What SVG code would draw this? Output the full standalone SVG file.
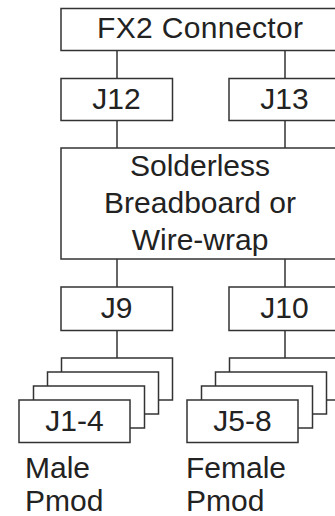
<svg xmlns="http://www.w3.org/2000/svg" width="335" height="516" viewBox="0 0 335 516">
<style>
rect{fill:#fff;stroke:#333;stroke-width:1.5}
.c line{stroke:#333;stroke-width:1.5}
text{font-family:"Liberation Sans",Arial,sans-serif;font-size:30px;fill:#222;text-anchor:middle}
.l{text-anchor:start}
</style>
<rect x="0" y="0" width="335" height="516" style="fill:#fff;stroke:none"/>
<g class="c" id="connectors">
<line x1="117" y1="50.5" x2="117" y2="78.5"/>
<line x1="285" y1="50.5" x2="285" y2="78.5"/>
<line x1="117" y1="120.5" x2="117" y2="148"/>
<line x1="285" y1="120.5" x2="285" y2="148"/>
<line x1="117" y1="259" x2="117" y2="287"/>
<line x1="285" y1="259" x2="285" y2="287"/>
<line x1="117" y1="330.5" x2="117" y2="358"/>
<line x1="285" y1="330.5" x2="285" y2="358"/>
</g>
<g id="fx2"><rect x="61" y="8.5" width="279" height="42"/><text x="200" y="38" textLength="206">FX2 Connector</text></g>
<g id="j12"><rect x="61" y="78.5" width="111.5" height="42"/><text x="116.5" y="109">J12</text></g>
<g id="j13"><rect x="229" y="78.5" width="111.5" height="42"/><text x="284.5" y="109">J13</text></g>
<g id="bread"><rect x="61" y="148" width="279" height="111"/>
<text x="200" y="176">Solderless</text><text x="200" y="213">Breadboard or</text><text x="200" y="250">Wire-wrap</text></g>
<g id="j9"><rect x="61" y="287" width="111.5" height="43.5"/><text x="116.5" y="318">J9</text></g>
<g id="j10"><rect x="229" y="287" width="111.5" height="43.5"/><text x="284.5" y="318">J10</text></g>
<g id="j1-4">
<rect x="61.5" y="358" width="111" height="42"/>
<rect x="47.5" y="372" width="111" height="42"/>
<rect x="33.5" y="386" width="111" height="42"/>
<rect x="19" y="400" width="111" height="42.5"/>
<text x="74.5" y="431">J1-4</text>
</g>
<g id="j5-8">
<rect x="229.5" y="358" width="111" height="42"/>
<rect x="215.5" y="372" width="111" height="42"/>
<rect x="201.5" y="386" width="111" height="42"/>
<rect x="187" y="400" width="111" height="42.5"/>
<text x="242.5" y="431">J5-8</text>
</g>
<g id="male"><text class="l" x="25" y="478">Male</text><text class="l" x="25" y="511">Pmod</text></g>
<g id="female"><text class="l" x="186" y="478">Female</text><text class="l" x="186" y="511">Pmod</text></g>
</svg>
